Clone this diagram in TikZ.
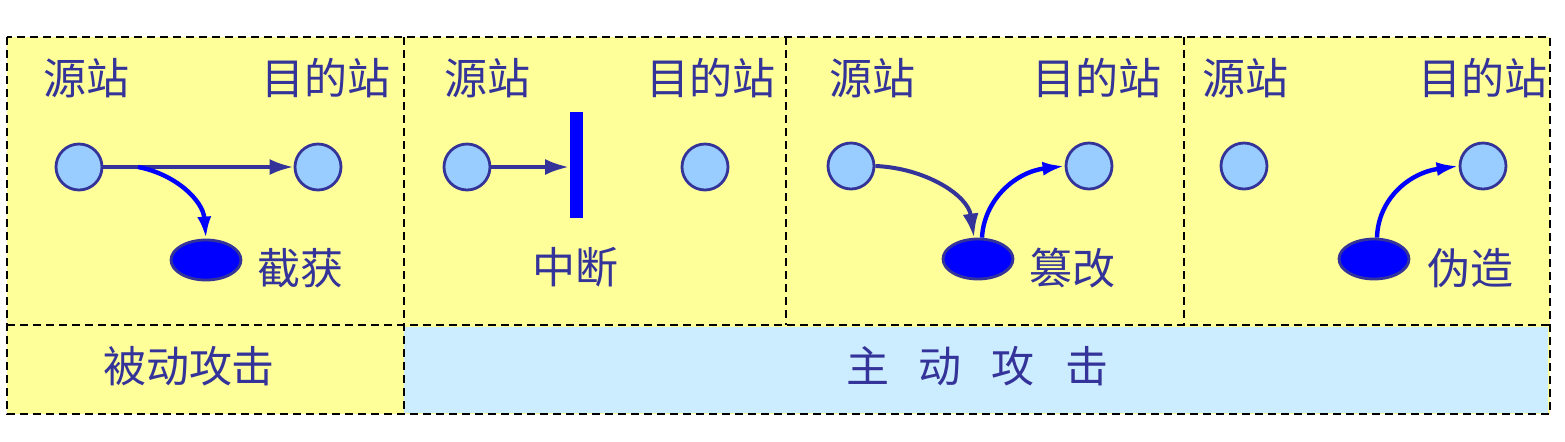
\documentclass[tikz,border=0pt]{standalone}
\usepackage{fontspec}
\newfontfamily\cjk{Noto Sans CJK SC}
\usetikzlibrary{arrows.meta,shapes.geometric}
\definecolor{ybg}{HTML}{FFFF99}
\definecolor{bbg}{HTML}{CCECFF}
\definecolor{nodefill}{HTML}{99CCFF}
\definecolor{dblue}{HTML}{333399}
\definecolor{pblue}{HTML}{0000FF}
\begin{document}
\begin{tikzpicture}[x=0.5pt,y=-0.5pt,
  station/.style={circle, draw=dblue, fill=nodefill, line width=1.4pt, minimum size=23pt, inner sep=0pt},
  thief/.style={ellipse, draw=dblue, fill=pblue, line width=1.4pt, minimum width=35pt, minimum height=20pt, inner sep=0pt},
  lbl/.style={font=\cjk\fontsize{21.5}{26}\selectfont, text=dblue, inner sep=0pt},
  darrow/.style={draw=dblue, line width=2pt, -{Latex[length=12pt,width=8pt]}},
  barrow/.style={draw=pblue, line width=2.2pt, -{Latex[length=11pt,width=7pt]}},
  frame/.style={black, line width=1pt, dash pattern=on 4pt off 2.5pt}]
\useasboundingbox (0,0) rectangle (1565,441);
% backgrounds
\fill[ybg] (7,37) rectangle (1550,414);
\fill[bbg] (404,327) rectangle (1548,413);
% frames
\draw[frame] (7,37) rectangle (1550,414);
\draw[frame] (7,325) -- (1550,325);
\draw[frame] (404,37) -- (404,414);
\draw[frame] (786,37) -- (786,325);
\draw[frame] (1184,37) -- (1184,325);

% panel 1: interception
\node[lbl] (src1) at (86,78) {源站};
\node[lbl] (dst1) at (326,78) {目的站};
\node[station] (s1) at (79,167) {};
\node[station] (d1) at (318,167) {};
\node[thief] (e1) at (206,260) {};
\node[lbl] (t1) at (300,268) {截获};
\draw[darrow] (s1) -- (d1);
\coordinate (c1) at (138,167);
\draw[barrow] (c1) .. controls (175,174) and (203,200) .. (e1.north);

% panel 2: interruption
\node[lbl] (src2) at (487,78) {源站};
\node[lbl] (dst2) at (711,78) {目的站};
\node[station] (s2) at (467,167) {};
\node[station] (d2) at (705,167) {};
\node[fill=pblue, minimum width=6.5pt, minimum height=53pt, inner sep=0pt] (bar) at (576,165) {};
\node[lbl] (t2) at (575,267) {中断};
\draw[darrow] (s2) -- (s2 -| bar.west);

% panel 3: modification
\node[lbl] (src3) at (872,78) {源站};
\node[lbl] (dst3) at (1097,78) {目的站};
\node[station] (s3) at (851,166) {};
\node[station] (d3) at (1089,166) {};
\node[thief] (e3) at (978,259) {};
\node[lbl] (t3) at (1072,268) {篡改};
\draw[darrow] (s3.east) .. controls (925,168) and (968,195) .. ([xshift=-2pt]e3.north);
\draw[barrow] ([xshift=2pt]e3.north) .. controls (984,200) and (1015,172) .. (d3.west);

% panel 4: fabrication
\node[lbl] (src4) at (1245,78) {源站};
\node[lbl] (dst4) at (1483,78) {目的站};
\node[station] (s4) at (1244,166) {};
\node[station] (d4) at (1483,166) {};
\node[thief] (e4) at (1374,259) {};
\node[lbl] (t4) at (1470,268) {伪造};
\draw[barrow] ([xshift=1.5pt]e4.north) .. controls (1378,200) and (1408,173) .. (d4.west);

% bottom row
\node[lbl] (passive) at (189,366) {被动攻击};
\node[lbl] (active) at (977,366) {主\hspace{15pt}动\hspace{15pt}攻\hspace{15pt}击};
\end{tikzpicture}
\end{document}
